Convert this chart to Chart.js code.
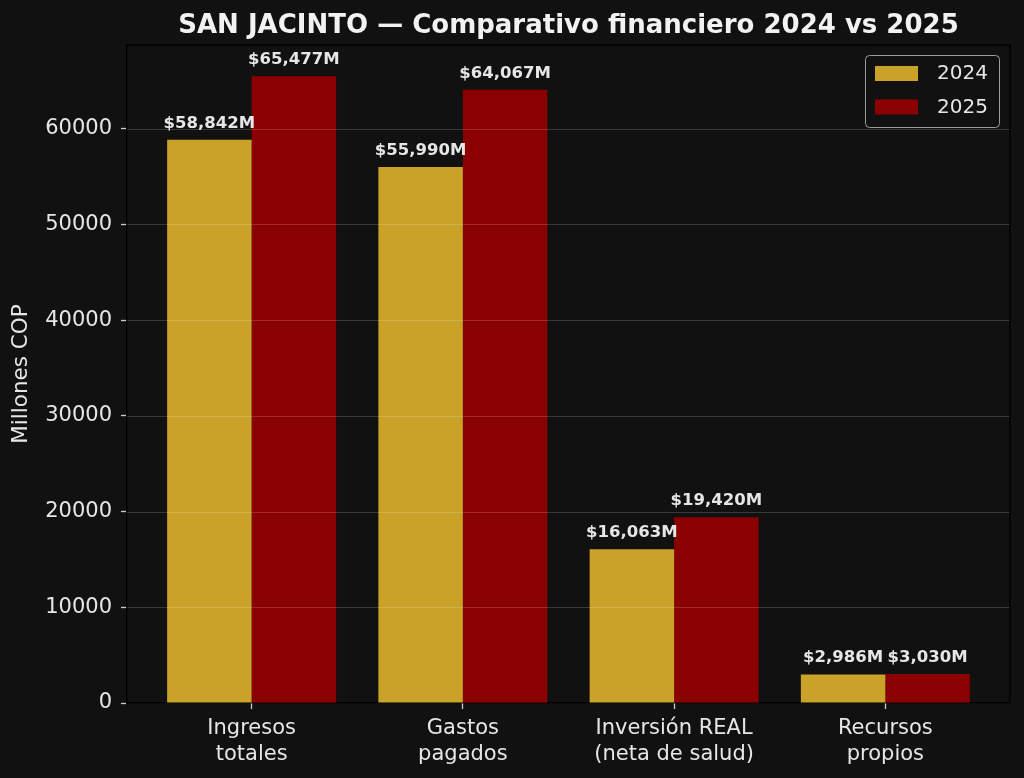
<!DOCTYPE html>
<html>
<head>
<meta charset="utf-8">
<script src="https://cdn.jsdelivr.net/npm/chart.js@4/dist/chart.umd.min.js"></script>
<style>
  body { margin: 0; background: #111111; }
  canvas { display: block; }
</style>
</head>
<body>
<canvas id="myChart" width="1024" height="778"></canvas>
<script>
// chart data
const categories = ['Ingresos\ntotales', 'Gastos\npagados', 'Inversión REAL\n(neta de salud)', 'Recursos\npropios'];
const years = ['2024', '2025'];
const values2024 = [58842, 55990, 16063, 2986];
const values2025 = [65477, 64067, 19420, 3030];
const yTicks = [0, 10000, 20000, 30000, 40000, 50000, 60000];
const yMax = 68750;

const colors = ['#C9A227', '#8B0000'];
const font = 'DejaVu Sans';
const textColor = '#e6e6e6';

// bars on a numeric x axis so the group spacing matches the original
function points(vals) {
    return vals.map((v, i) => ({ x: i, y: v }));
}

// background, gridlines over the bars, top/right spines, title, labels, legend
const extras = {
    id: 'extras',
    beforeDraw(chart) {
        const ctx = chart.ctx;
        ctx.save();
        ctx.fillStyle = '#111111';
        ctx.fillRect(0, 0, chart.width, chart.height);
        ctx.restore();
    },
    afterDatasetsDraw(chart) {
        const ctx = chart.ctx;
        const area = chart.chartArea;
        const y = chart.scales.y;
        ctx.save();
        ctx.strokeStyle = 'rgba(255,255,255,0.17)';
        ctx.lineWidth = 1;
        yTicks.forEach(t => {
            if (t === 0) return;
            const py = Math.round(y.getPixelForValue(t)) + 0.5;
            ctx.beginPath();
            ctx.moveTo(area.left, py);
            ctx.lineTo(area.right, py);
            ctx.stroke();
        });

        // value labels above each bar
        ctx.fillStyle = textColor;
        ctx.font = 'bold 16.5px "' + font + '"';
        ctx.textAlign = 'center';
        ctx.textBaseline = 'alphabetic';
        chart.data.datasets.forEach((ds, di) => {
            chart.getDatasetMeta(di).data.forEach((bar, i) => {
                const txt = '$' + ds.data[i].y.toLocaleString('en-US') + 'M';
                ctx.fillText(txt, bar.x, bar.y - 12);
            });
        });
        ctx.restore();
    },
    afterDraw(chart) {
        const ctx = chart.ctx;
        const area = chart.chartArea;
        ctx.save();
        // top and right spines
        ctx.strokeStyle = '#000000';
        ctx.lineWidth = 1.3;
        ctx.beginPath();
        ctx.moveTo(area.left, area.top);
        ctx.lineTo(area.right, area.top);
        ctx.lineTo(area.right, area.bottom);
        ctx.stroke();

        // title
        ctx.fillStyle = '#f2f2f2';
        ctx.font = 'bold 26px "' + font + '"';
        ctx.textAlign = 'center';
        ctx.textBaseline = 'alphabetic';
        ctx.fillText('SAN JACINTO — Comparativo financiero 2024 vs 2025', (area.left + area.right) / 2, 33);

        // legend box in the upper right corner
        const bx = 865, by = 55, bw = 134, bh = 72;
        ctx.beginPath();
        ctx.roundRect(bx + 0.5, by + 0.5, bw, bh, 4);
        ctx.fillStyle = 'rgba(17,17,17,0.8)';
        ctx.fill();
        ctx.strokeStyle = '#9a9a9a';
        ctx.lineWidth = 1;
        ctx.stroke();
        ctx.font = '20px "' + font + '"';
        ctx.textAlign = 'left';
        ctx.textBaseline = 'middle';
        chart.data.datasets.forEach((ds, i) => {
            const rowY = by + 18 + i * 33.5;
            ctx.fillStyle = ds.backgroundColor;
            ctx.fillRect(bx + 10, rowY - 7, 43, 15);
            ctx.fillStyle = textColor;
            ctx.fillText(ds.label, bx + 72, rowY + 1);
        });
        ctx.restore();
    }
};

const ctx = document.getElementById('myChart');

const myChart = new Chart(ctx, {
    type: 'bar',
    data: {
        datasets: [
            { label: years[0], data: points(values2024), backgroundColor: colors[0], borderWidth: 0 },
            { label: years[1], data: points(values2025), backgroundColor: colors[1], borderWidth: 0 }
        ]
    },
    options: {
        responsive: false,
        animation: false,
        categoryPercentage: 0.8,
        barPercentage: 1.0,
        layout: { padding: { left: 0, top: 45, right: 14, bottom: 0 } },
        plugins: {
            legend: { display: false },
            tooltip: { enabled: false }
        },
        scales: {
            x: {
                type: 'linear',
                min: -0.59,
                max: 3.59,
                offset: false,
                afterBuildTicks: (s) => { s.ticks = categories.map((c, i) => ({ value: i })); },
                afterFit: (s) => { s.height = 75; },
                ticks: {
                    color: textColor,
                    font: { family: font, size: 21, lineHeight: 1.25 },
                    padding: 6,
                    maxRotation: 0,
                    autoSkip: false,
                    callback: (v) => categories[v] ? categories[v].split('\n') : ''
                },
                grid: { offset: false, drawOnChartArea: false, drawTicks: true, tickLength: 6, tickColor: '#cccccc', tickWidth: 1.3 },
                border: { display: true, color: '#000000', width: 1.3 }
            },
            y: {
                min: 0,
                max: yMax,
                afterBuildTicks: (s) => { s.ticks = yTicks.map(v => ({ value: v })); },
                afterFit: (s) => { s.width = 127; },
                ticks: {
                    color: textColor,
                    font: { family: font, size: 21 },
                    padding: 9,
                    callback: (v) => String(v)
                },
                grid: { drawOnChartArea: false, drawTicks: true, tickLength: 6, tickColor: '#cccccc', tickWidth: 1.3 },
                border: { display: true, color: '#000000', width: 1.3 },
                title: {
                    display: true,
                    text: 'Millones COP',
                    color: textColor,
                    font: { family: font, size: 21.5 },
                    padding: { top: 9, bottom: 0 }
                }
            }
        }
    },
    plugins: [extras]
});
</script>
</body>
</html>
